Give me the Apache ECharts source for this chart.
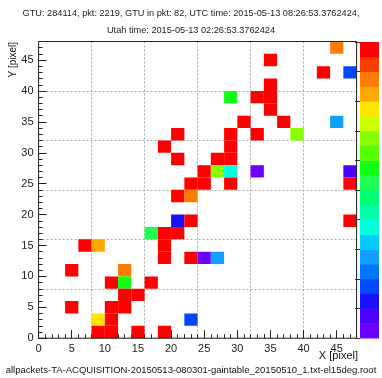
<!DOCTYPE html>
<html><head><meta charset="utf-8">
<script src="https://cdn.jsdelivr.net/npm/echarts@6/dist/echarts.min.js"></script>
<style>html,body{margin:0;padding:0;background:#fff}#c{width:382px;height:378px}</style>
</head><body><div id="c"></div>
<script>
// ---- data ----
const titleLine1 = 'GTU: 284114, pkt: 2219, GTU in pkt: 82, UTC time: 2015-05-13 08:26:53.3762424,';
const titleLine2 = 'Utah time: 2015-05-13 02:26:53.3762424';
const footerText = 'allpackets-TA-ACQUISITION-20150513-080301-gaintable_20150510_1.txt-el15deg.root';
const xAxisTitle = 'X [pixel]';
const yAxisTitle = 'Y [pixel]';
const xTickLabels = [0, 5, 10, 15, 20, 25, 30, 35, 40, 45];
const yTickLabels = [0, 5, 10, 15, 20, 25, 30, 35, 40, 45];
const axisMin = 0, axisMax = 48, cellSize = 2;
// lower-left corner of each lit cell and its colour level (0 = violet ... 19 = red)
const cellX = [44,34,42,46,34,28,32,34,34,30,36,44,20,28,32,38,18,28,20,26,28,24,26,28,32,46,22,24,28,46,20,22,
               20,22,46,16,18,20,18,18,22,6,8,4,12,10,12,16,12,14,10,12,4,8,10,8,10,14,18,22,24,26];
const cellY = [46,44,42,42,40,38,38,38,36,34,34,34,32,32,32,32,30,30,28,28,28,26,26,26,26,26,24,24,24,24,22,22,
               18,18,18,16,16,16,14,12,12,14,14,10,10,8,8,8,6,6,4,4,4,2,2,0,0,0,0,2,12,12];
const cellLevel = [17,19,19,3,19,11,19,19,19,19,19,5,19,19,19,13,19,19,19,19,19,19,13,7,0,1,19,19,19,19,19,17,
                   2,19,19,10,19,19,19,19,19,19,16,19,17,19,11,19,19,19,19,19,19,15,19,19,19,19,19,3,0,5];
const colorbarLevels = [0,1,2,3,4,5,6,7,8,9,10,11,12,13,14,15,16,17,18,19];

// ---- style ----
const palette = ['#6a00ff','#4c00ff','#1a10ff','#0048ff','#0076ff','#10a0ff','#00ccff','#00ffdd','#00ffaa','#00ff77',
                 '#20ff50','#11ff11','#55ff00','#88ff00','#ccff00','#ffe400','#ffa800','#ff7c00','#ff3c00','#ff0000'];
const FONT = 'Liberation Sans';
const plot = {left: 38.6, top: 41.5, width: 318, height: 296.7};

const cells = cellX.map((x, i) => [x, cellY[i], cellLevel[i]]);
const barCells = colorbarLevels.map(v => [0, v, v]);

function renderCell(params, api) {
  const x = api.value(0), y = api.value(1), lv = api.value(2);
  const p0 = api.coord([x, y + cellSize]);
  const p1 = api.coord([x + cellSize, y]);
  return {type: 'rect', shape: {x: p0[0], y: p0[1], width: p1[0] - p0[0], height: p1[1] - p0[1]},
          style: {fill: palette[lv]}};
}
function renderBar(params, api) {
  const v = api.value(1), lv = api.value(2);
  const p0 = api.coord([0, v + 1]);
  const p1 = api.coord([1, v]);
  return {type: 'rect', shape: {x: p0[0], y: p0[1], width: p1[0] - p0[0], height: p1[1] - p0[1] + 0.5},
          style: {fill: palette[lv]}};
}

const tickColor = '#222';
function majorAxis(pos, labels) {
  return {type: 'value', gridIndex: 0, position: pos, min: axisMin, max: axisMax, interval: 5,
    axisLine: {show: false},
    axisTick: {show: true, inside: true, length: 8, lineStyle: {color: tickColor, width: 1}},
    axisLabel: {show: true, margin: 5, color: '#222', fontFamily: FONT, fontSize: 11, showMaxLabel: false,
      formatter: v => labels.includes(v) ? String(v) : ''},
    splitLine: {show: false}};
}
function minorAxis(pos) {
  return {type: 'value', gridIndex: 0, position: pos, min: axisMin, max: axisMax, interval: 1,
    axisLine: {show: false},
    axisTick: {show: true, inside: true, length: 4, lineStyle: {color: tickColor, width: 1}},
    axisLabel: {show: false}, splitLine: {show: false}};
}
function gridAxis(pos) {
  return {type: 'value', gridIndex: 0, position: pos, min: axisMin, max: axisMax, interval: 8,
    axisLine: {show: false}, axisTick: {show: false}, axisLabel: {show: false},
    splitLine: {show: true, lineStyle: {color: '#aaa', type: [2, 2], width: 1}}};
}

const chart = echarts.init(document.getElementById('c'), null, {renderer: 'canvas'});
chart.setOption({
  animation: false,
  backgroundColor: '#fff',
  textStyle: {fontFamily: FONT},
  grid: [
    {left: plot.left, top: plot.top, width: plot.width, height: plot.height, show: true,
     borderColor: '#222', borderWidth: 1, backgroundColor: 'transparent', z: 5},
    {left: 360, top: 42, width: 19, height: 296}
  ],
  xAxis: [
    gridAxis('bottom'), majorAxis('bottom', xTickLabels), minorAxis('bottom'),
    {type: 'value', gridIndex: 1, min: 0, max: 1, show: false}
  ],
  yAxis: [
    gridAxis('left'), majorAxis('left', yTickLabels), minorAxis('left'),
    {type: 'value', gridIndex: 1, min: 0, max: 20, interval: 2, position: 'right',
     axisLine: {show: false}, axisLabel: {show: false}, splitLine: {show: false},
     axisTick: {show: true, inside: true, length: 5, lineStyle: {color: '#333'}}}
  ],
  series: [
    {type: 'custom', xAxisIndex: 0, yAxisIndex: 0, data: cells, renderItem: renderCell,
     encode: {x: 0, y: 1}, clip: true, z: 2},
    {type: 'custom', xAxisIndex: 3, yAxisIndex: 3, data: barCells, renderItem: renderBar,
     encode: {x: 0, y: 1}, z: 1}
  ],
  graphic: [
    {type: 'text', left: 'center', top: 9, style: {text: titleLine1, font: '9.2px "Liberation Sans"', fill: '#222'}},
    {type: 'text', left: 'center', top: 26, style: {text: titleLine2, font: '9.2px "Liberation Sans"', fill: '#222'}},
    {type: 'text', right: 24, top: 350, style: {text: xAxisTitle, font: '11px "Liberation Sans"', fill: '#111'}},
    {type: 'text', x: 8, y: 42, rotation: Math.PI / 2, style: {text: yAxisTitle, font: '10px "Liberation Sans"', fill: '#111', align: 'right', verticalAlign: 'top'}},
    {type: 'text', left: 'center', top: 365, style: {text: footerText, font: '9.5px "Liberation Sans"', fill: '#111'}}
  ]
});
</script></body></html>
